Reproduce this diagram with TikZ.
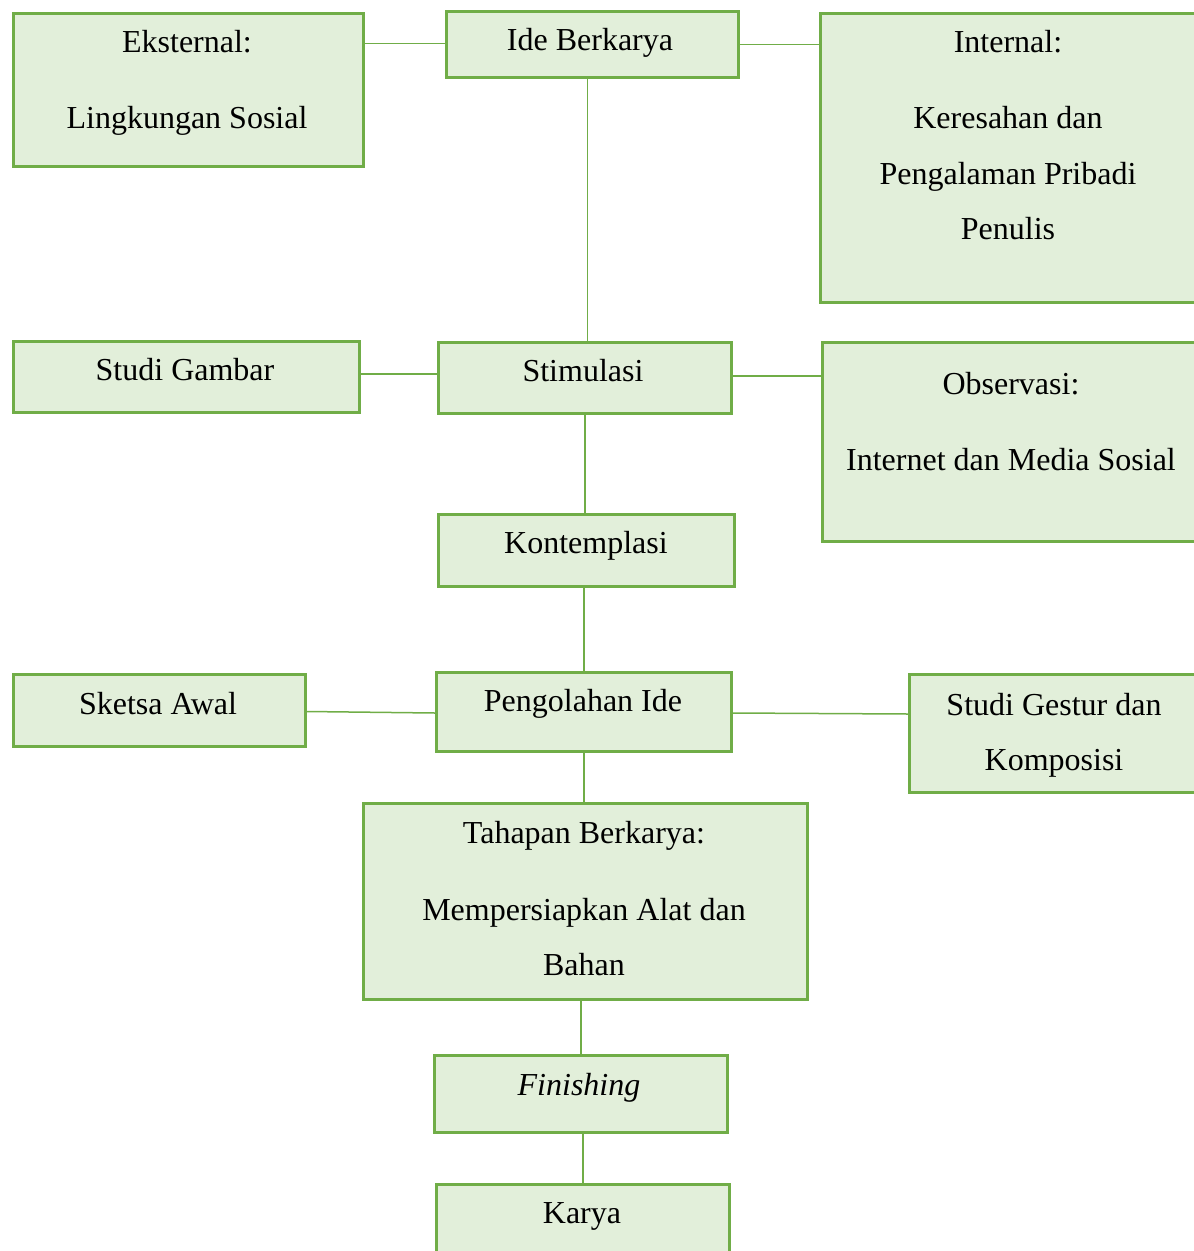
\documentclass[tikz,border=0pt]{standalone}
\usepackage{fontspec}
\setmainfont{Liberation Serif}
\usetikzlibrary{calc}
\definecolor{gborder}{HTML}{70AD47}
\definecolor{gfill}{HTML}{E2EFDA}
\tikzset{
  box/.style={draw=gborder, fill=gfill, line width=3pt, inner sep=0pt, anchor=north west},
  conn/.style={draw=gborder, line width=1.5pt},
  txt/.style={font=\fontsize{32}{38}\selectfont, inner sep=0pt, anchor=base, text=black}
}
\begin{document}
\begin{tikzpicture}[x=1pt,y=-1pt]
\useasboundingbox (0,0) rectangle (1194,1251);
\clip (0,0) rectangle (1194,1251);
% boxes
\node[box, minimum width=350pt, minimum height=153pt] (ekst) at (12,12) {};
\node[box, minimum width=292pt, minimum height=66pt] (ide) at (445,10) {};
\node[box, minimum width=385pt, minimum height=289pt] (int) at (819,12) {};
\node[box, minimum width=346pt, minimum height=71pt] (sg) at (12,340) {};
\node[box, minimum width=293pt, minimum height=71pt] (stim) at (437,341) {};
\node[box, minimum width=383pt, minimum height=199pt] (obs) at (821,341) {};
\node[box, minimum width=296pt, minimum height=72pt] (kont) at (437,513) {};
\node[box, minimum width=292pt, minimum height=72pt] (sk) at (12,673) {};
\node[box, minimum width=295pt, minimum height=79pt] (peng) at (435,671) {};
\node[box, minimum width=296pt, minimum height=118pt] (gest) at (908,673) {};
\node[box, minimum width=444pt, minimum height=196pt] (tah) at (362,802) {};
\node[box, minimum width=293pt, minimum height=77pt] (fin) at (433,1054) {};
\node[box, minimum width=293pt, minimum height=90pt] (karya) at (435,1183) {};
% connectors
\draw[conn] ($(ide.west -| ekst.east)+(0,-1)$) -- ($(ide.west)+(0,-1)$);
\draw[conn] (ide.east) -- (ide.east -| int.west);
\draw[conn] ($(ide.south)+(-5,0)$) -- ($(ide.south |- stim.north)+(-5,0)$);
\draw[conn] ($(sg.east)+(0,-3)$) -- ($(sg.east -| stim.west)+(0,-3)$);
\draw[conn] ($(stim.east)+(0,-2)$) -- ($(stim.east -| obs.west)+(0,-2)$);
\draw[conn] (stim.south) -- (stim.south |- kont.north);
\draw[conn] (peng.north |- kont.south) -- (peng.north);
\draw[conn] ($(sk.east)+(0,1)$) -- ($(peng.west)+(0,1)$);
\draw[conn] ($(peng.east)+(0,1)$) -- ($(gest.north west)+(0,41)$);
\draw[conn] (peng.south) -- (peng.south |- tah.north);
\draw[conn] (fin.north |- tah.south) -- (fin.north);
\draw[conn] ($(fin.south)+(2,0)$) -- ($(fin.south |- karya.north)+(2,0)$);
% texts
\node[txt] (t1a) at (187,52) {Eksternal:};
\node[txt] (t1b) at (187,128) {Lingkungan Sosial};
\node[txt] (t2) at (590,50) {Ide Berkarya};
\node[txt] (t3a) at (1008,52) {Internal:};
\node[txt] (t3b) at (1008,128) {Keresahan dan};
\node[txt] (t3c) at (1008,184) {Pengalaman Pribadi};
\node[txt] (t3d) at (1008,239) {Penulis};
\node[txt] (t4) at (185,380) {Studi Gambar};
\node[txt] (t5) at (583,381) {Stimulasi};
\node[txt] (t6a) at (1011,394) {Observasi:};
\node[txt] (t6b) at (1011,470) {Internet dan Media Sosial};
\node[txt] (t7) at (586,553) {Kontemplasi};
\node[txt] (t8) at (158,714) {Sketsa Awal};
\node[txt] (t9) at (583,711) {Pengolahan Ide};
\node[txt] (t10a) at (1054,715) {Studi Gestur dan};
\node[txt] (t10b) at (1054,770) {Komposisi};
\node[txt] (t11a) at (584,843) {Tahapan Berkarya:};
\node[txt] (t11b) at (584,920) {Mempersiapkan Alat dan};
\node[txt] (t11c) at (584,975) {Bahan};
\node[txt] (t12) at (579,1095) {\itshape Finishing};
\node[txt] (t13) at (582,1223) {Karya};
\end{tikzpicture}
\end{document}
